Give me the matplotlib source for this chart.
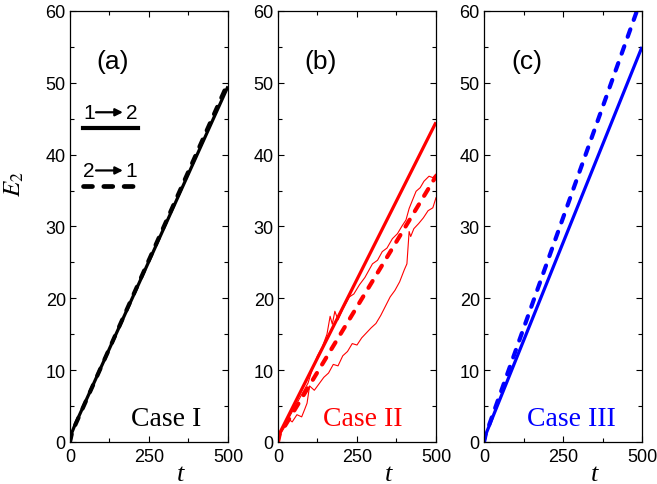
import matplotlib
matplotlib.use("Agg")
import matplotlib.pyplot as plt
from matplotlib.lines import Line2D

# ---- data ----
# panel (a), Case I
t_a = [0, 5, 15, 500]
e_a_12 = [0, 1.2, 2.3, 49.5]
e_a_21 = [0, 1.0, 2.2, 50.0]

# panel (b), Case II
t_b = [0, 5, 500]
e_b_12 = [0, 1.2, 44.5]
e_b_21 = [0, 1.0, 37.0]
t_b_up = [0, 20, 40, 60, 80, 95, 110, 125, 140, 155, 165, 172, 180, 190, 205,
          226, 240, 258, 275, 299, 315, 330, 345, 362, 378, 393, 405, 415, 425,
          437, 450, 462, 478, 490, 500]
e_b_up = [0.5, 2.0, 3.8, 5.4, 7.0, 8.2, 10.3, 12.0, 13.2, 15.0, 17.5, 16.4,
          18.2, 17.0, 18.5, 20.2, 20.6, 21.9, 22.9, 24.8, 25.3, 26.5, 27.0,
          28.3, 29.0, 30.1, 30.9, 32.5, 33.6, 34.9, 35.4, 36.3, 37.0, 36.8, 37.3]
t_b_lo = [0, 15, 30, 45, 60, 75, 85, 92, 100, 115, 130, 145, 160, 175, 190,
          205, 220, 235, 250, 265, 280, 295, 310, 325, 340, 355, 370, 385, 400,
          408, 415, 420, 430, 445, 460, 475, 490, 500]
e_b_lo = [0.3, 2.0, 3.3, 2.8, 3.8, 3.5, 4.6, 5.4, 7.8, 7.2, 8.1, 9.0, 9.6,
          10.8, 10.6, 12.0, 12.6, 13.7, 13.5, 14.5, 15.2, 15.9, 16.5, 17.6,
          18.9, 20.2, 21.1, 22.3, 24.0, 24.8, 29.3, 28.6, 29.7, 30.4, 31.2,
          32.2, 32.6, 34.0]

# panel (c), Case III
t_c = [0, 5, 500]
e_c_12 = [0, 1.0, 55.0]
e_c_21 = [0, 1.0, 62.0]

panels = [
    ("(a)", "Case I", "black", t_a, e_a_12, t_a, e_a_21, [], 0.61),
    ("(b)", "Case II", "red", t_b, e_b_12, t_b, e_b_21,
     [(t_b_up, e_b_up), (t_b_lo, e_b_lo)], 0.535),
    ("(c)", "Case III", "blue", t_c, e_c_12, t_c, e_c_21, [], 0.55),
]

plt.rcParams["font.family"] = ["Liberation Sans", "DejaVu Sans"]
serif = ["Liberation Serif", "DejaVu Serif"]

fig = plt.figure(figsize=(6.57, 4.85), dpi=100)
lefts = [0.1065, 0.4231, 0.7367]
dash = (0, (1.9, 2.4))


def legend_key(ax, a, b, y_txt, y_line, ls, lw):
    # "a -> b" label above a short sample line
    kw = dict(transform=ax.transAxes, ha="center", va="center", fontsize=15)
    ax.text(0.12, y_txt, a, **kw)
    ax.text(0.39, y_txt, b, **kw)
    ax.annotate("", xy=(0.335, y_txt), xytext=(0.165, y_txt),
                xycoords="axes fraction",
                arrowprops=dict(arrowstyle="-|>", color="black", lw=1.6,
                                mutation_scale=11, shrinkA=0, shrinkB=0))
    ax.add_line(Line2D([0.085, 0.43], [y_line, y_line], transform=ax.transAxes,
                       color="black", lw=lw, linestyle=ls,
                       dash_capstyle="round"))


for left, (tag, case, col, ts, es, td, ed, extra, cx) in zip(lefts, panels):
    ax = fig.add_axes([left, 0.0866, 0.2405, 0.8887])
    for tx, ex in extra:
        ax.plot(tx, ex, color=col, lw=0.8)
    ax.plot(ts, es, color=col, lw=2.3, solid_capstyle="butt")
    ax.plot(td, ed, color=col, lw=3.0, linestyle=dash, dash_capstyle="round")
    ax.set_xlim(0, 500)
    ax.set_ylim(0, 60)
    ax.set_xticks([0, 250, 500])
    ax.set_xticks([125, 375], minor=True)
    ax.set_yticks(range(0, 61, 10))
    ax.set_yticks(range(5, 60, 10), minor=True)
    ax.tick_params(which="both", direction="in", top=True, right=True,
                   labelsize=13, width=0.8)
    ax.tick_params(axis="x", which="major", pad=4)
    ax.tick_params(axis="y", which="major", pad=3)
    ax.tick_params(which="major", length=4)
    ax.tick_params(which="minor", length=3)
    for s in ax.spines.values():
        s.set_linewidth(0.9)
    ax.text(0.27, 0.885, tag, transform=ax.transAxes, ha="center",
            va="center", fontsize=19)
    ax.text(cx, 0.04, case, transform=ax.transAxes, ha="center",
            va="baseline", fontsize=20, family=serif, color=col)
    ax.text(0.70, -0.075, "t", transform=ax.transAxes, ha="center",
            va="center", fontsize=19, family=serif, style="italic")
    if tag == "(a)":
        legend_key(ax, "1", "2", 0.765, 0.728, "-", 3.0)
        legend_key(ax, "2", "1", 0.63, 0.595, dash, 3.4)

fig.text(0.022, 0.62, "$E_2$", rotation=90, ha="center", va="center",
         fontsize=18, family=serif, math_fontfamily="stix")

fig.savefig("out.png", dpi=100)
